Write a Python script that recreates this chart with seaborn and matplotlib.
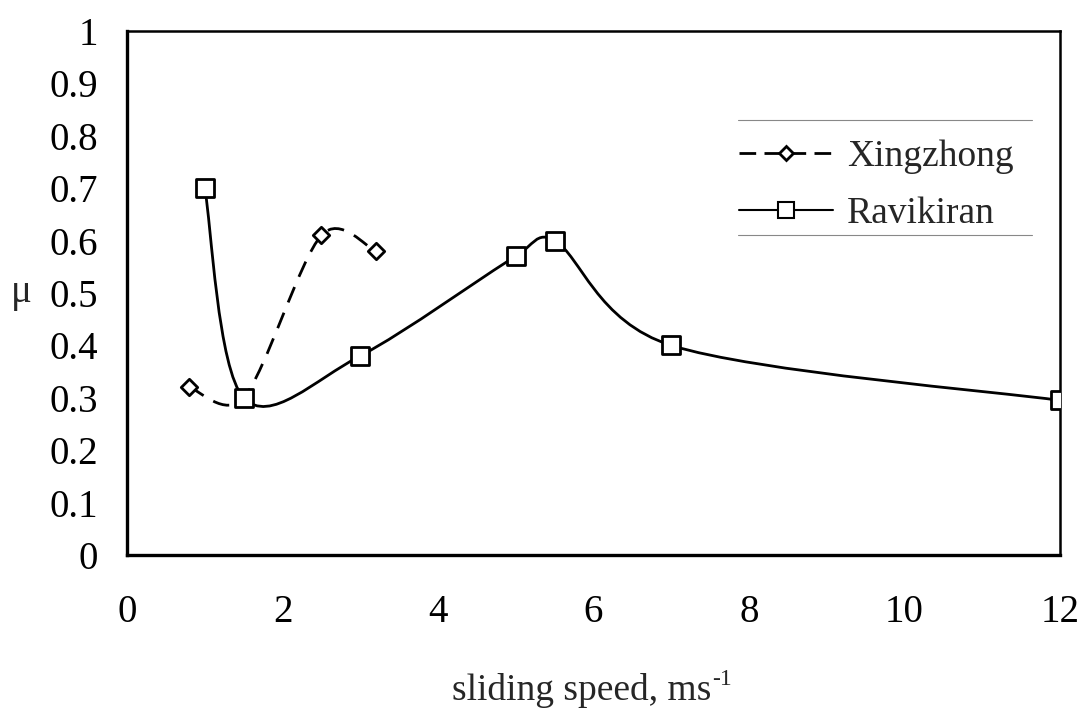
import numpy as np
import matplotlib
matplotlib.use("Agg")
import matplotlib.pyplot as plt
import seaborn as sns
from matplotlib.path import Path
from matplotlib.patches import PathPatch
from matplotlib.lines import Line2D

xing_speed = [0.8, 1.5, 2.5, 3.2]
xing_mu = [0.32, 0.30, 0.61, 0.58]

ravi_speed = [1.0, 1.5, 3.0, 5.0, 5.5, 7.0, 12.0]
ravi_mu = [0.70, 0.30, 0.38, 0.57, 0.60, 0.40, 0.295]

x_ticks = [0, 2, 4, 6, 8, 10, 12]
y_ticks = [0, 0.1, 0.2, 0.3, 0.4, 0.5, 0.6, 0.7, 0.8, 0.9, 1]

sns.set_style("white")
plt.rcParams['font.family'] = ['Liberation Serif', 'DejaVu Serif']


# Excel-like smoothed line: bezier segments, control arm = 1/6 of neighbour chord,
# capped at half the segment length (worked out in screen space)
def smooth_path(ax, xs, ys):
    to_disp = ax.transData
    pts = to_disp.transform(np.column_stack([xs, ys]).astype(float))
    n = len(pts)
    verts = [pts[0]]
    codes = [Path.MOVETO]
    for i in range(n - 1):
        p0 = pts[max(i - 1, 0)]
        p1 = pts[i]
        p2 = pts[i + 1]
        p3 = pts[min(i + 2, n - 1)]
        seg = np.linalg.norm(p2 - p1)
        a1 = (p2 - p0) / 6.0
        a2 = (p3 - p1) / 6.0
        if np.linalg.norm(a1) > seg / 2:
            a1 = a1 * (seg / 2) / np.linalg.norm(a1)
        if np.linalg.norm(a2) > seg / 2:
            a2 = a2 * (seg / 2) / np.linalg.norm(a2)
        verts += [p1 + a1, p2 - a2, p2]
        codes += [Path.CURVE4] * 3
    verts = to_disp.inverted().transform(np.array(verts))
    return Path(verts, codes)


fig = plt.figure(figsize=(10.82, 7.12), dpi=100)
ax = fig.add_axes([0.1174, 0.2205, 0.8623, 0.736])
ax.set_xlim(0, 12)
ax.set_ylim(0, 1)

ax.add_patch(PathPatch(smooth_path(ax, xing_speed, xing_mu), fill=False,
                       edgecolor='black', lw=2, linestyle=(0, (6, 4)), zorder=2))
ax.add_patch(PathPatch(smooth_path(ax, ravi_speed, ravi_mu), fill=False,
                       edgecolor='black', lw=2, zorder=2))

sns.scatterplot(x=xing_speed, y=xing_mu, marker='D', s=70, facecolor='white',
                edgecolor='black', linewidth=2, ax=ax, zorder=3, legend=False)
sns.scatterplot(x=ravi_speed, y=ravi_mu, marker='s', s=150, facecolor='white',
                edgecolor='black', linewidth=2, ax=ax, zorder=3, legend=False)

ax.set_xlim(0, 12)
ax.set_ylim(0, 1)
ax.set_xticks(x_ticks)
ax.set_yticks(y_ticks)
ax.set_xticklabels([str(t) for t in x_ticks])
ax.set_yticklabels([f"{t:g}" for t in y_ticks])
ax.tick_params(axis='both', direction='inout', length=12, width=1, color='#555555',
               labelsize=28, labelcolor='black')
ax.tick_params(axis='x', pad=22)
ax.tick_params(axis='y', pad=15)

for side in ['left', 'bottom']:
    ax.spines[side].set_linewidth(2.4)
for side in ['right', 'top']:
    ax.spines[side].set_linewidth(1.8)
for sp in ax.spines.values():
    sp.set_color('black')
    sp.set_visible(True)

# x label with a small raised "-1" (plain hyphen, as in the original)
ax.set_xlabel("sliding speed, ms", fontsize=27)
ax.xaxis.set_label_coords(0.487, -0.226)
fig.canvas.draw()
lab_box = ax.xaxis.label.get_window_extent()
fig.text(lab_box.x1 / fig.bbox.width + 0.001, (lab_box.y1 + 4) / fig.bbox.height, "-1",
         fontsize=17, ha='left', va='top')

ax.set_ylabel("μ", fontsize=28, rotation=0, va='center', ha='center')
ax.yaxis.set_label_coords(-0.1136, 0.5)

handles = [
    Line2D([], [], color='black', lw=2, linestyle=(0, (6, 3)), marker='D', markersize=7,
           markerfacecolor='white', markeredgewidth=2),
    Line2D([], [], color='black', lw=1.5, marker='s', markersize=11,
           markerfacecolor='white', markeredgewidth=1.5),
]
leg = ax.legend(handles, ['Xingzhong', 'Ravikiran'], loc='upper left',
                bbox_to_anchor=(0.62, 0.857), frameon=False, fontsize=27,
                handlelength=2.5, handletextpad=0.38, labelspacing=0.6)
# only the top and bottom rules of the legend box are visible
ax.plot([0.655, 0.97], [0.83, 0.83], transform=ax.transAxes, color='#888888', lw=0.8)
ax.plot([0.655, 0.97], [0.61, 0.61], transform=ax.transAxes, color='#888888', lw=0.8)

fig.savefig("out.png", dpi=100, facecolor='white')
